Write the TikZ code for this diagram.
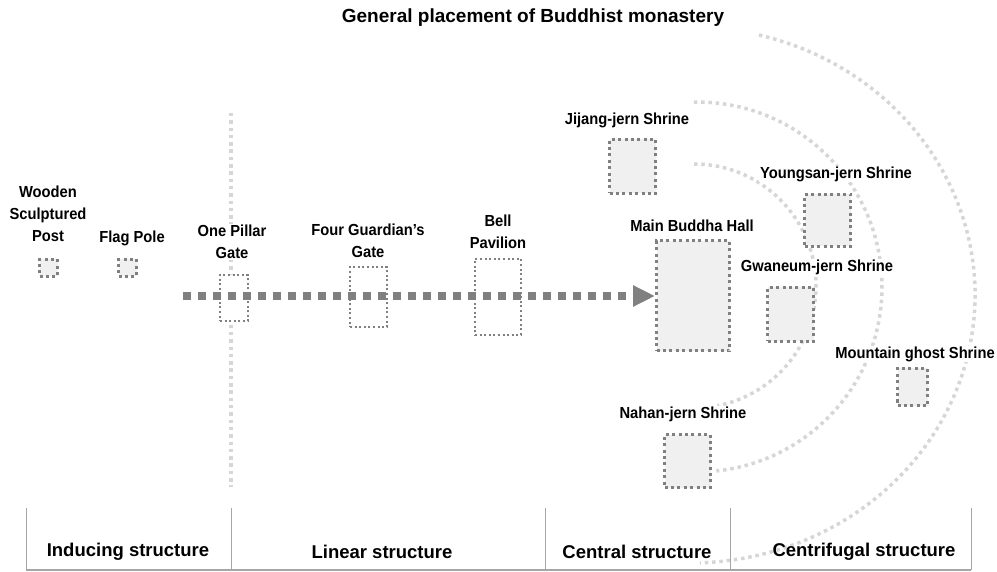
\documentclass[tikz,border=0pt]{standalone}
\usepackage{fontspec}
\setmainfont{Liberation Sans}
\newfontfamily\narrowfont{Liberation Sans}[FakeStretch=0.92]
\usetikzlibrary{arrows.meta}
\definecolor{boxgray}{HTML}{808080}
\definecolor{boxfill}{HTML}{F0F0F0}
\definecolor{arcgray}{HTML}{D6D6D6}
\definecolor{rulegray}{HTML}{A6A6A6}
\begin{document}
\begin{tikzpicture}[x=1pt,y=-1pt,
        hall/.style={draw=boxgray,fill=boxfill,line width=3pt,dash pattern=on 3pt off 3.4pt,inner sep=0pt},
        gate/.style={draw=boxgray,fill=white,line width=2pt,dash pattern=on 2pt off 2.6pt,inner sep=0pt},
        lbl/.style={fill=white,inner sep=1pt,align=center,font=\narrowfont\bfseries\fontsize{16}{22}\selectfont},
        ring/.style={draw=arcgray,line width=3.5pt,dash pattern=on 3.5pt off 3.8pt},
        part/.style={font=\bfseries\fontsize{18.5}{22}\selectfont}]
    \useasboundingbox (0,0) rectangle (997,572);
    \node[font=\bfseries\fontsize{19}{22}\selectfont] (title) at (533,18) {General placement of Buddhist monastery};
    \draw[ring] (694,286) ++(-90:122) arc[start angle=-90,end angle=79,radius=122];
    \draw[ring] (697,287) ++(-91:185) arc[start angle=-91,end angle=84,radius=185];
    \draw[ring] (690,295) ++({285*cos(-76)},{268*sin(-76)}) arc[start angle=-76,end angle=88,x radius=285,y radius=268];
    \draw[ring] (231,113) -- (231,487);
    \node[hall,minimum width=18pt,minimum height=17pt] (post) at (48.5,268) {};
    \node[hall,minimum width=18pt,minimum height=17pt] (flag) at (127.5,268) {};
    \node[gate,minimum width=28pt,minimum height=46pt] (pillar) at (234,298) {};
    \node[gate,minimum width=37pt,minimum height=60pt] (guardian) at (368.5,297) {};
    \node[gate,minimum width=46pt,minimum height=76pt] (bell) at (498,297) {};
    \node[hall,minimum width=73pt,minimum height=110pt] (hall) at (693,296) {};
    \node[hall,minimum width=46pt,minimum height=54pt] (jijang) at (632.5,166.5) {};
    \node[hall,minimum width=46pt,minimum height=52pt] (youngsan) at (827.5,220.5) {};
    \node[hall,minimum width=46pt,minimum height=54pt] (gwaneum) at (790.5,314.5) {};
    \node[hall,minimum width=30pt,minimum height=37pt] (mountain) at (912.5,387) {};
    \node[hall,minimum width=46pt,minimum height=53pt] (nahan) at (687.5,461) {};
    \node[lbl] (postlbl) at (48,214) {Wooden\\Sculptured\\Post};
    \node[lbl] (flaglbl) at (132,238) {Flag Pole};
    \node[lbl] (pillarlbl) at (232,242) {One Pillar\\Gate};
    \node[lbl] (guardianlbl) at (368,241) {Four Guardian’s\\Gate};
    \node[lbl] (belllbl) at (498,232) {Bell\\Pavilion};
    \node[lbl] (halllbl) at (692,226) {Main Buddha Hall};
    \node[lbl] (jijanglbl) at (627,120) {Jijang-jern Shrine};
    \node[lbl] (youngsanlbl) at (836,174) {Youngsan-jern Shrine};
    \node[lbl] (gwaneumlbl) at (817,267) {Gwaneum-jern Shrine};
    \node[lbl] (mountainlbl) at (915,354) {Mountain ghost Shrine};
    \node[lbl] (nahanlbl) at (683,414) {Nahan-jern Shrine};
    \coordinate (entry) at (183,296);
    \draw[boxgray,line width=8pt,dash pattern=on 8pt off 7pt,-{Triangle[length=22pt,width=20pt]}] (entry) -- (hall.west);
    \foreach \x in {26,231,545,730,971}
        \draw[rulegray,line width=0.8pt] (\x,508) -- (\x,570);
    \draw[rulegray,line width=1.2pt] (26,570) -- (971,570);
    \node[part] (inducing) at (128,552) {Inducing structure};
    \node[part] (linear) at (382,552) {Linear structure};
    \node[part] (central) at (637,552) {Central structure};
    \node[part] (centrifugal) at (864,552) {Centrifugal structure};
\end{tikzpicture}
\end{document}
